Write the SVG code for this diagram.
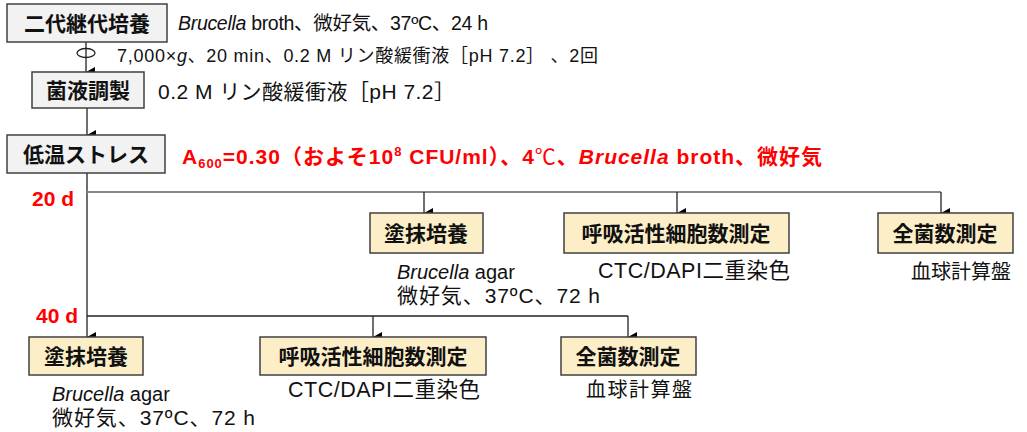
<svg xmlns="http://www.w3.org/2000/svg" width="1027" height="432" viewBox="0 0 1027 432">
<style>
text{font-family:"Liberation Sans","Noto Sans CJK JP",sans-serif;fill:#111}
.gbox{fill:#f2f2f2;stroke:#404040;stroke-width:1.5}
.ybox{fill:#fcefc8;stroke:#404040;stroke-width:1.5}
.lbl{font-size:21px;font-weight:bold;text-anchor:middle}
.note{font-size:20px}
.red{fill:#ff0000;font-weight:bold;font-size:21px}
.ln{stroke:#222;stroke-width:1.3;fill:none}
.gl{stroke:#888;stroke-width:1.8;fill:none}
</style>
<defs>
<marker id="ah" markerWidth="10" markerHeight="10" refX="5" refY="9" orient="auto" markerUnits="userSpaceOnUse" viewBox="0 0 10 10">
<path d="M0,0 L10,0 L5,9 Z" fill="#000"/>
</marker>
</defs>
<g id="connectors">
<line class="ln" x1="86" y1="42" x2="86" y2="72" marker-end="url(#ah)"/>
<ellipse cx="86" cy="53" rx="9" ry="4.5" fill="none" stroke="#222" stroke-width="1.3"/>
<line class="ln" x1="87" y1="108" x2="87" y2="135" marker-end="url(#ah)"/>
<line class="ln" x1="87" y1="173" x2="87" y2="337" marker-end="url(#ah)"/>
<polyline class="gl" points="87,192 941,192"/>
<line class="ln" x1="424" y1="192" x2="424" y2="213" marker-end="url(#ah)"/>
<line class="ln" x1="677" y1="192" x2="677" y2="213" marker-end="url(#ah)"/>
<line class="ln" x1="941" y1="192" x2="941" y2="213" marker-end="url(#ah)"/>
<polyline class="ln" points="87,316 628,316"/>
<line class="ln" x1="373" y1="316" x2="373" y2="337" marker-end="url(#ah)"/>
<line class="ln" x1="628" y1="316" x2="628" y2="337" marker-end="url(#ah)"/>
</g>
<g id="n1"><rect class="gbox" x="7" y="4" width="160" height="38"/><text class="lbl" x="87" y="31">二代継代培養</text></g>
<g id="n2"><rect class="gbox" x="32" y="72" width="112" height="36"/><text class="lbl" x="88" y="98">菌液調製</text></g>
<g id="n3"><rect class="gbox" x="7" y="135" width="158" height="38"/><text class="lbl" x="86" y="162">低温ストレス</text></g>
<g id="n4"><rect class="ybox" x="370" y="213" width="113" height="40"/><text class="lbl" x="426" y="241">塗抹培養</text></g>
<g id="n5"><rect class="ybox" x="564" y="213" width="225" height="40"/><text class="lbl" x="676" y="241">呼吸活性細胞数測定</text></g>
<g id="n6"><rect class="ybox" x="878" y="213" width="135" height="40"/><text class="lbl" x="945" y="241">全菌数測定</text></g>
<g id="n7"><rect class="ybox" x="29" y="337" width="114" height="38"/><text class="lbl" x="86" y="364">塗抹培養</text></g>
<g id="n8"><rect class="ybox" x="260" y="337" width="226" height="38"/><text class="lbl" x="373" y="364">呼吸活性細胞数測定</text></g>
<g id="n9"><rect class="ybox" x="561" y="337" width="135" height="38"/><text class="lbl" x="628" y="364">全菌数測定</text></g>
<g id="texts">
<text x="178" y="30" font-size="19.5" textLength="310" lengthAdjust="spacing"><tspan font-style="italic">Brucella</tspan> broth、微好気、37ºC、24 h</text>
<text x="117" y="62" font-size="18" textLength="481" lengthAdjust="spacing">7,000×<tspan font-style="italic">g</tspan>、20 min、0.2 M リン酸緩衝液［pH 7.2］ 、2回</text>
<text x="158" y="99" font-size="21" textLength="297" lengthAdjust="spacing">0.2 M リン酸緩衝液［pH 7.2］</text>
<text class="red" x="182" y="164" textLength="640" lengthAdjust="spacing">A<tspan font-size="13" dy="4">600</tspan><tspan dy="-4">=0.30（およそ10</tspan><tspan font-size="13" dy="-8">8</tspan><tspan dy="8"> CFU/ml）、4<tspan font-weight="normal">℃</tspan>、</tspan><tspan font-style="italic">Brucella</tspan> broth、微好気</text>
<text class="red" x="32" y="206">20 d</text>
<text class="red" x="36" y="323">40 d</text>
<text class="note" x="397" y="279"><tspan font-style="italic">Brucella</tspan> agar</text>
<text x="397" y="303" font-size="21" textLength="203" lengthAdjust="spacing">微好気、37ºC、72 h</text>
<text x="598" y="278" font-size="21.5" textLength="192" lengthAdjust="spacing">CTC/DAPI二重染色</text>
<text class="note" x="911" y="279">血球計算盤</text>
<text class="note" x="52" y="401"><tspan font-style="italic">Brucella</tspan> agar</text>
<text x="52" y="425" font-size="21" textLength="203" lengthAdjust="spacing">微好気、37ºC、72 h</text>
<text x="288" y="397" font-size="21.5" textLength="192" lengthAdjust="spacing">CTC/DAPI二重染色</text>
<text class="note" x="586" y="397" textLength="106" lengthAdjust="spacing">血球計算盤</text>
</g>
</svg>
